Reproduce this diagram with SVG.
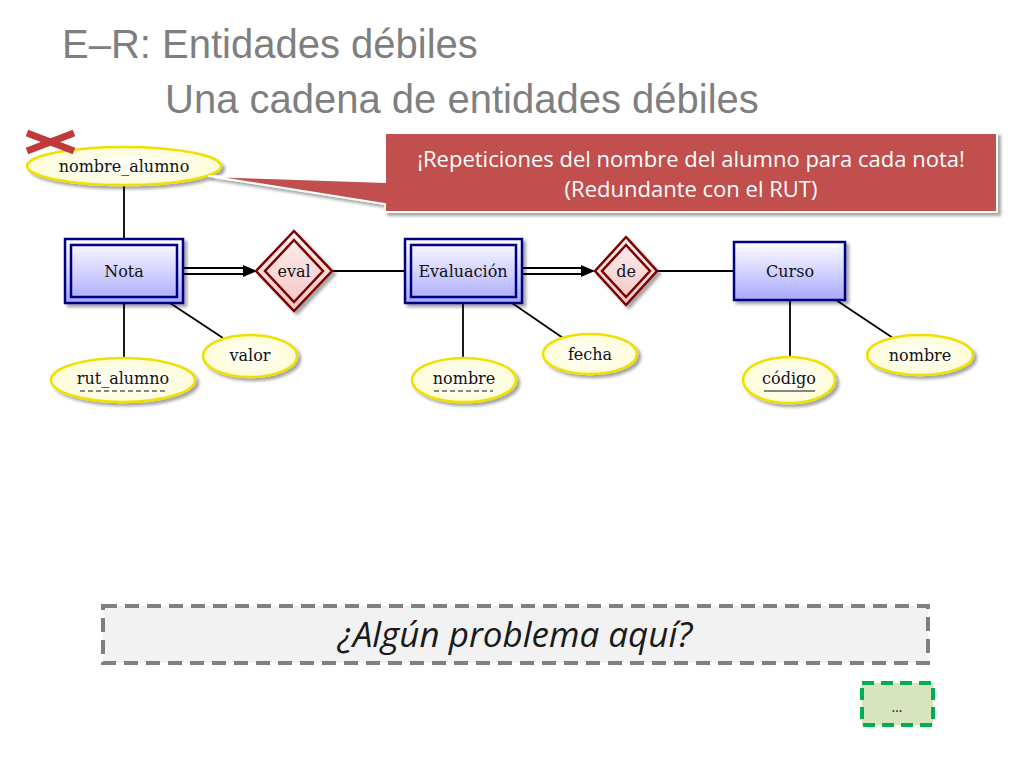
<svg xmlns="http://www.w3.org/2000/svg" width="1024" height="768" viewBox="0 0 1024 768">
<defs>
<linearGradient id="gEnt" x1="0" y1="0" x2="0" y2="1"><stop offset="0" stop-color="#ffffff"/><stop offset="1" stop-color="#a8a8ff"/></linearGradient>
<linearGradient id="gRel" x1="0" y1="0" x2="0" y2="1"><stop offset="0" stop-color="#fff0f0"/><stop offset="1" stop-color="#f4c4c4"/></linearGradient>
<radialGradient id="gAtt" cx="0.5" cy="0.5" r="0.6"><stop offset="0" stop-color="#ffffff"/><stop offset="1" stop-color="#fdfccf"/></radialGradient>
<filter id="sh" x="-20%" y="-20%" width="150%" height="160%"><feDropShadow dx="3" dy="3" stdDeviation="1.5" flood-color="#000" flood-opacity="0.35"/></filter>
<style>
.title{font-family:"Liberation Sans",Arial,sans-serif;font-size:40px;fill:#7f7f7f}
.lbl{font-family:"DejaVu Serif","Liberation Serif",serif;font-size:16px;fill:#111;text-anchor:middle}
.ent{fill:url(#gEnt);stroke:#000080;stroke-width:2.5}
.ent2{fill:none;stroke:#000080;stroke-width:2.5}
.rel{fill:url(#gRel);stroke:#7a0000;stroke-width:2.5}
.rel2{fill:none;stroke:#7a0000;stroke-width:2.5}
.att{fill:url(#gAtt);stroke:#f0e000;stroke-width:2.5}
.ln{stroke:#000;stroke-width:1.8;fill:none}
.dbl{stroke:#000;stroke-width:8;fill:none}
.dblw{stroke:#fff;stroke-width:4;fill:none}
.cal{font-family:"Open Sans","Liberation Sans",sans-serif;font-size:22px;fill:#fff;text-anchor:middle}
</style>
</defs>
<rect width="1024" height="768" fill="#fff"/>
<text class="title" x="62" y="58">E–R: Entidades débiles</text>
<text class="title" x="165" y="113">Una cadena de entidades débiles</text>

<g id="connectors">
<line class="ln" x1="124" y1="185" x2="124" y2="239"/>
<line class="ln" x1="124" y1="303" x2="124" y2="358"/>
<line class="ln" x1="170" y1="303" x2="223" y2="338"/>
<line class="ln" x1="332" y1="271" x2="405" y2="271"/>
<line class="ln" x1="463" y1="303" x2="463" y2="358"/>
<line class="ln" x1="512" y1="303" x2="563" y2="338"/>
<line class="ln" x1="657" y1="271" x2="734" y2="271"/>
<line class="ln" x1="790" y1="300" x2="790" y2="357"/>
<line class="ln" x1="836" y1="300" x2="893" y2="338"/>
<line class="dbl" x1="183" y1="271" x2="246" y2="271"/>
<line class="dblw" x1="183" y1="271" x2="246" y2="271"/>
<path d="M243,265 L257,271 L243,277 Z" fill="#000"/>
<line class="dbl" x1="522" y1="271" x2="584" y2="271"/>
<line class="dblw" x1="522" y1="271" x2="584" y2="271"/>
<path d="M581,265 L595,271 L581,277 Z" fill="#000"/>
</g>

<g id="nombre_alumno">
<ellipse class="att" cx="124" cy="166" rx="97" ry="19" filter="url(#sh)"/>
<text class="lbl" x="124" y="172">nombre_alumno</text>
</g>
<g id="cross">
<line x1="27" y1="133" x2="74" y2="151" stroke="#c0393b" stroke-width="7"/>
<line x1="27" y1="151" x2="74" y2="133" stroke="#c0393b" stroke-width="7"/>
</g>

<g id="callout">
<path d="M385,133 H997 V212 H385 V204 L208,176 L385,182 Z" fill="#c0504d" stroke="#fff" stroke-width="2" filter="url(#sh)"/>
<text class="cal" x="691" y="167">¡Repeticiones del nombre del alumno para cada nota!</text>
<text class="cal" x="691" y="197">(Redundante con el RUT)</text>
</g>

<g id="Nota">
<rect class="ent" x="65" y="239" width="118" height="64" filter="url(#sh)"/>
<rect class="ent2" x="71" y="245" width="106" height="52"/>
<text class="lbl" x="124" y="277">Nota</text>
</g>
<g id="eval">
<polygon class="rel" points="294,231 332,271 294,311 256,271" filter="url(#sh)"/>
<polygon class="rel2" points="294,240 323,271 294,302 265,271"/>
<text class="lbl" x="294" y="277">eval</text>
</g>
<g id="Evaluacion">
<rect class="ent" x="405" y="239" width="117" height="64" filter="url(#sh)"/>
<rect class="ent2" x="411" y="245" width="105" height="52"/>
<text class="lbl" x="463" y="277">Evaluación</text>
</g>
<g id="de">
<polygon class="rel" points="626,237 657,271 626,305 595,271" filter="url(#sh)"/>
<polygon class="rel2" points="626,245 650,271 626,297 602,271"/>
<text class="lbl" x="626" y="277">de</text>
</g>
<g id="Curso">
<rect class="ent" x="734" y="242" width="111" height="58" filter="url(#sh)"/>
<text class="lbl" x="790" y="277">Curso</text>
</g>

<g id="rut_alumno">
<ellipse class="att" cx="123" cy="380" rx="72" ry="22" filter="url(#sh)"/>
<text class="lbl" x="123" y="384">rut_alumno</text>
<line x1="80" y1="391" x2="167" y2="391" stroke="#111" stroke-width="1.2" stroke-dasharray="5,3"/>
</g>
<g id="valor">
<ellipse class="att" cx="250" cy="356" rx="47" ry="21" filter="url(#sh)"/>
<text class="lbl" x="250" y="361">valor</text>
</g>
<g id="nombre_eval">
<ellipse class="att" cx="464" cy="380" rx="52" ry="22" filter="url(#sh)"/>
<text class="lbl" x="464" y="384">nombre</text>
<line x1="434" y1="391" x2="493" y2="391" stroke="#111" stroke-width="1.2" stroke-dasharray="5,3"/>
</g>
<g id="fecha">
<ellipse class="att" cx="590" cy="354" rx="47" ry="20" filter="url(#sh)"/>
<text class="lbl" x="590" y="360">fecha</text>
</g>
<g id="codigo">
<ellipse class="att" cx="789" cy="380" rx="46" ry="23" filter="url(#sh)"/>
<text class="lbl" x="789" y="384">código</text>
<line x1="764" y1="391" x2="815" y2="391" stroke="#111" stroke-width="1.2"/>
</g>
<g id="nombre_curso">
<ellipse class="att" cx="920" cy="355" rx="53" ry="20" filter="url(#sh)"/>
<text class="lbl" x="920" y="361">nombre</text>
</g>

<g id="pregunta">
<rect x="103" y="606" width="825" height="57" fill="#f2f2f2" stroke="#808080" stroke-width="4" stroke-dasharray="14,8"/>
<text x="515" y="647" font-family="Open Sans, Liberation Sans, sans-serif" font-style="italic" font-size="35" fill="#1a1a1a" text-anchor="middle">¿Algún problema aquí?</text>
</g>
<g id="dots">
<rect x="862" y="683" width="71" height="42" fill="#d7e4bd" stroke="#00b050" stroke-width="4" stroke-dasharray="12,7"/>
<text x="897" y="712" font-family="Open Sans, Liberation Sans, sans-serif" font-size="14" fill="#222" text-anchor="middle">…</text>
</g>
</svg>
